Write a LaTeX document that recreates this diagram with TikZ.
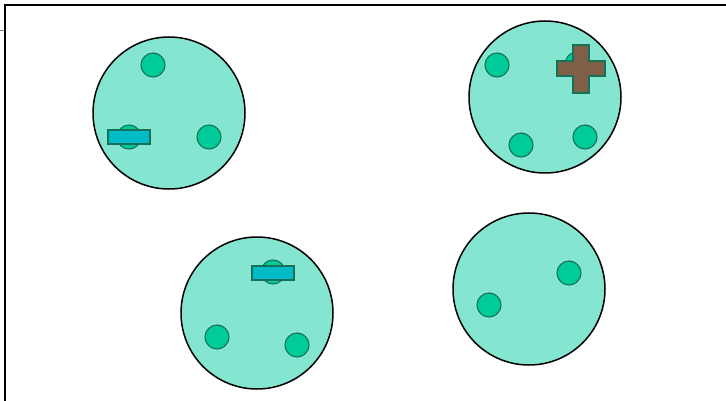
\documentclass[tikz,border=0pt]{standalone}
\definecolor{cellFill}{HTML}{84E6D0}
\definecolor{dotFill}{HTML}{00CC99}
\definecolor{dotEdge}{HTML}{16705A}
\definecolor{barFill}{HTML}{00BCC8}
\definecolor{crossFill}{HTML}{7F6046}
\usepackage{tikz}
\usetikzlibrary{positioning,calc}

\begin{document}
\begin{tikzpicture}[x=1pt, y=-1pt,
    cell/.style={circle, draw=black, line width=1.5pt, fill=cellFill, minimum size=152pt, inner sep=0pt},
    dot/.style={circle, draw=dotEdge, line width=1.1pt, fill=dotFill, minimum size=24pt, inner sep=0pt},
    bar/.style={rectangle, draw=dotEdge, line width=1.1pt, fill=barFill, minimum width=42pt, minimum height=14pt, inner sep=0pt}]
        \useasboundingbox (0,0) rectangle (726,401);
        % Frame
        \draw[gray, line width=0.8pt] (0,30) -- (5,30);
        \draw[black, line width=1.5pt] (726,5) -- (5,5) -- (5,401);
        % Cells
        \node[cell] (cellA) at (169,113) {};
        \node[cell] (cellB) at (545,97) {};
        \node[cell] (cellC) at (257,313) {};
        \node[cell] (cellD) at (529,289) {};
        % Dots in cell A
        \node[dot] (a1) at (153,65) {};
        \node[dot] (a2) at (129,137) {};
        \node[dot] (a3) at (209,137) {};
        \node[bar] (barA) at (129,137) {};
        % Dots in cell B
        \node[dot] (b1) at (497,65) {};
        \node[dot] (b2) at (521,145) {};
        \node[dot] (b3) at (585,137) {};
        \node[dot] (b4) at (577,64) {};
        \draw[dotEdge, line width=1.1pt, fill=crossFill]
          (573,45) -- (589,45) -- (589,61) -- (605,61) -- (605,76) -- (589,76)
          -- (589,93) -- (573,93) -- (573,76) -- (557,76) -- (557,61) -- (573,61) -- cycle;
        % Dots in cell C
        \node[dot] (c1) at (273,272) {};
        \node[dot] (c2) at (217,337) {};
        \node[dot] (c3) at (297,345) {};
        \node[bar] (barC) at (273,273) {};
        % Dots in cell D
        \node[dot] (d1) at (489,305) {};
        \node[dot] (d2) at (569,273) {};
\end{tikzpicture}
\end{document}
